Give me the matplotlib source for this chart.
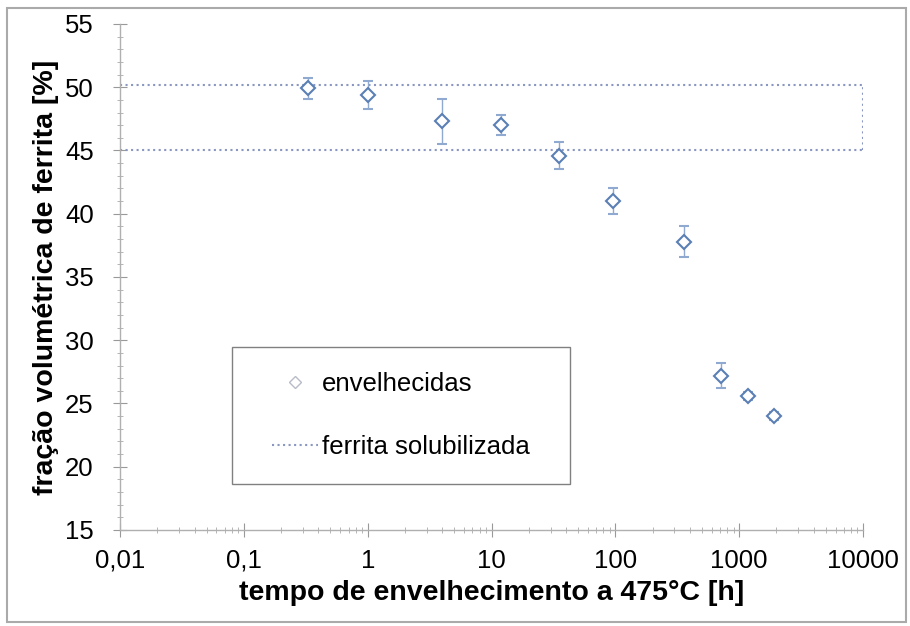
import matplotlib
matplotlib.use("Agg")
import matplotlib.pyplot as plt
from matplotlib.ticker import FixedLocator, MultipleLocator, LogLocator, NullFormatter
from matplotlib.lines import Line2D

plt.rcParams['font.family'] = ['Liberation Sans', 'DejaVu Sans']

tempo = [0.33, 1.0, 4.0, 12.0, 35.0, 95.0, 355.0, 710.0, 1170.0, 1900.0]
fracao = [49.9, 49.4, 47.3, 47.0, 44.6, 41.0, 37.8, 27.2, 25.6, 24.0]
erro = [0.8, 1.1, 1.8, 0.8, 1.1, 1.0, 1.2, 1.0, 0.3, 0.3]

solub_x = [0.01, 10000]
solub_sup = 50.2
solub_inf = 45.0

xticks = [0.01, 0.1, 1, 10, 100, 1000, 10000]
xticklabels = ['0,01', '0,1', '1', '10', '100', '1000', '10000']
yticks = [15, 20, 25, 30, 35, 40, 45, 50, 55]

fig = plt.figure(figsize=(9.10, 6.26), dpi=100)
ax = fig.add_axes([0.1319, 0.1534, 0.8165, 0.8083])

cor = '#5a7fb5'
ax.errorbar(tempo, fracao, yerr=erro, fmt='D', ms=7.5, mfc='white', mec=cor, mew=1.5,
            ecolor='#8fa9d0', elinewidth=1, capsize=3.5, capthick=1, zorder=3)

lc = '#8a97c0'
ax.plot(solub_x, [solub_sup, solub_sup], color=lc, ls=':', lw=1.5)
ax.plot(solub_x, [solub_inf, solub_inf], color=lc, ls=':', lw=1.5)
ax.plot([solub_x[1], solub_x[1]], [solub_inf, solub_sup], color=lc, ls=':', lw=1.5)

ax.set_xscale('log')
ax.set_xlim(0.01, 10000)
ax.set_ylim(15, 55)
ax.xaxis.set_major_locator(FixedLocator(xticks))
ax.set_xticklabels(xticklabels)
ax.xaxis.set_minor_locator(LogLocator(base=10, subs=range(2, 10), numticks=20))
ax.xaxis.set_minor_formatter(NullFormatter())
ax.set_yticks(yticks)
ax.yaxis.set_minor_locator(MultipleLocator(1))

for s in ['top', 'right']:
    ax.spines[s].set_visible(False)
for s in ['left', 'bottom']:
    ax.spines[s].set_color('#b0b0b0')
    ax.spines[s].set_linewidth(1)

ax.tick_params(axis='both', which='major', direction='inout', length=10, color='#999999',
               labelsize=18.5)
ax.tick_params(axis='x', which='major', pad=8.5)
ax.tick_params(axis='y', which='major', pad=14)
ax.tick_params(axis='both', which='minor', direction='inout', length=5, color='#aaaaaa')

ax.set_xlabel('tempo de envelhecimento a 475°C [h]', fontsize=20.5, fontweight='bold', labelpad=5)
ax.set_ylabel('fração volumétrica de ferrita [%]', fontsize=20.5, fontweight='bold', labelpad=4.5)

handles = [
    Line2D([], [], ls='none', marker='D', ms=6, mfc='white', mec='#b8bcc8', mew=1),
    Line2D([], [], color=lc, ls=':', lw=1.5),
]
leg = ax.legend(handles, ['envelhecidas', 'ferrita solubilizada'], loc='center',
                bbox_to_anchor=(0.378, 0.2263), frameon=False,
                fontsize=18.5, borderpad=0, labelspacing=1.55,
                handlelength=1.8, handletextpad=0.15)

box = plt.Rectangle((0.1507, 0.0909), 0.455, 0.2708, transform=ax.transAxes,
                    fill=True, facecolor='white', edgecolor='#808080', lw=1, zorder=2.5)
ax.add_patch(box)
leg.set_zorder(5)

border = plt.Rectangle((7 / 910, 4 / 626), 899 / 910, 614 / 626, transform=fig.transFigure,
                       fill=False, edgecolor='#aaaaaa', lw=1.5)
fig.add_artist(border)

fig.savefig('out.png', dpi=100)
